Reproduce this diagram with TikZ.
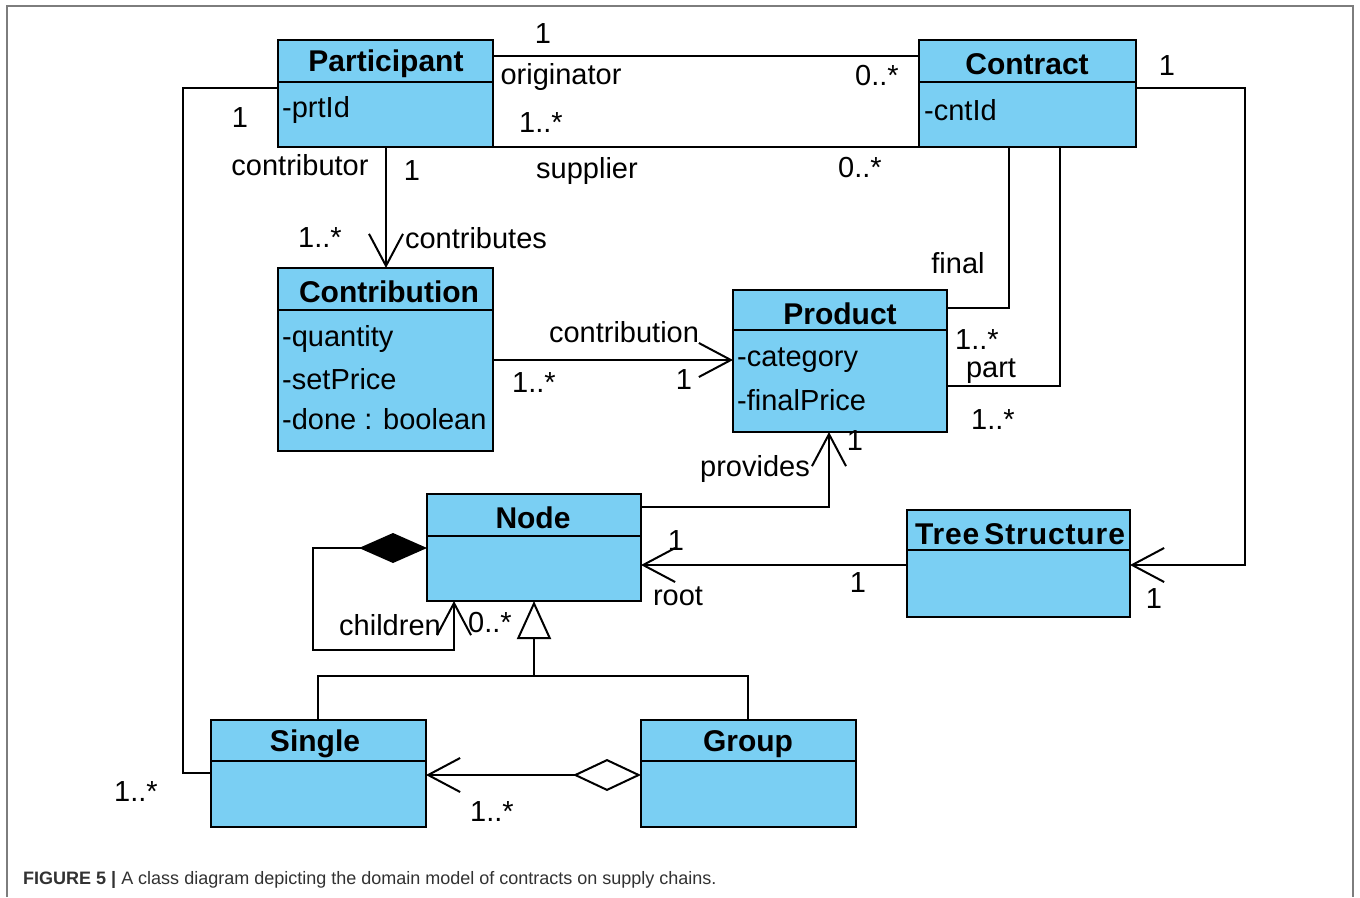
\documentclass[tikz,border=0pt]{standalone}
\usepackage{fontspec}
\setmainfont{Liberation Sans}
\usetikzlibrary{arrows.meta,calc}
\definecolor{clsblue}{RGB}{122,207,243}
\definecolor{framegray}{RGB}{125,125,125}
\definecolor{capgray}{RGB}{50,50,50}
\begin{document}
\begin{tikzpicture}[x=1pt,y=-1pt,
  cls/.style={draw=black, line width=2.4pt, fill=clsblue, anchor=north west, inner sep=0pt, outer sep=0pt},
  ttl/.style={font=\fontsize{30}{32}\selectfont\bfseries, inner sep=0pt, yshift=-2pt},
  attr/.style={font=\fontsize{29}{31}\selectfont, anchor=west, inner sep=0pt, yshift=-2pt},
  lbl/.style={font=\fontsize{29}{31}\selectfont, inner sep=0pt, yshift=-1pt},
  conn/.style={draw=black, line width=2pt},
  divl/.style={draw=black, line width=2.4pt},
  opena/.style={-{Straight Barb[length=32pt,width=34pt]}},
]
\useasboundingbox (0,0) rectangle (1360,897);
\fill[white] (0,0) rectangle (1360,897);
\draw[framegray, line width=1.5pt] (7,897) -- (7,6) -- (1353,6) -- (1353,897);

% classes
\node[cls, minimum width=215pt, minimum height=107pt] (P) at (278,40) {};
\draw[divl] (P.west |- 0,82) -- (P.east |- 0,82);
\node[ttl] (Pt) at (386,62) {Participant};
\node[attr] (Pa) at (282,108) {-prtId};

\node[cls, minimum width=217pt, minimum height=107pt] (C) at (919,40) {};
\draw[divl] (C.west |- 0,82) -- (C.east |- 0,82);
\node[ttl] (Ct) at (1027,62) {Contract};
\node[attr] (Ca) at (924,108) {-cntId};

\node[cls, minimum width=215pt, minimum height=183pt] (Cb) at (278,268) {};
\draw[divl] (Cb.west |- 0,310) -- (Cb.east |- 0,310);
\node[ttl] (Cbt) at (389,290) {Contribution};
\node[attr] (Cba) at (282,337) {-quantity};
\node[attr] (Cbb) at (282,377) {-setPrice};
\node[attr] (Cbc) at (282,417) {-done : boolean};

\node[cls, minimum width=214pt, minimum height=142pt] (Pr) at (733,290) {};
\draw[divl] (Pr.west |- 0,330) -- (Pr.east |- 0,330);
\node[ttl] (Prt) at (840,312) {Product};
\node[attr] (Pra) at (737,358) {-category};
\node[attr] (Prb) at (737,398) {-finalPrice};

\node[cls, minimum width=214pt, minimum height=107pt] (N) at (427,494) {};
\draw[divl] (N.west |- 0,536) -- (N.east |- 0,536);
\node[ttl] (Nt) at (533,516) {Node};

\node[cls, minimum width=223pt, minimum height=107pt] (T) at (907,510) {};
\draw[divl] (T.west |- 0,550) -- (T.east |- 0,550);
\node[ttl] (Tt) at (1020,532) {\addfontfeature{LetterSpace=3}Tree\,Structure};

\node[cls, minimum width=215pt, minimum height=107pt] (S) at (211,720) {};
\draw[divl] (S.west |- 0,761) -- (S.east |- 0,761);
\node[ttl] (St) at (315,742) {Single};

\node[cls, minimum width=215pt, minimum height=107pt] (G) at (641,720) {};
\draw[divl] (G.west |- 0,761) -- (G.east |- 0,761);
\node[ttl] (Gt) at (748,742) {Group};

% connectors
\draw[conn] (P.east |- 0,56) -- (C.west |- 0,56);
\draw[conn] (P.east |- 0,147) -- (C.west |- 0,147);
\draw[conn, opena] (P.south -| 386,0) -- (Cb.north -| 386,0);
\draw[conn, opena] (Cb.east |- 0,360) -- (Pr.west |- 0,360);
\draw[conn] (C.south -| 1009,0) -- (1009,308) -- (Pr.east |- 0,308);
\draw[conn] (C.south -| 1060,0) -- (1060,386) -- (Pr.east |- 0,386);
\draw[conn, opena] (C.east |- 0,88) -- (1245,88) -- (1245,565) -- (T.east |- 0,565);
\draw[conn, opena] (N.east |- 0,507) -- (829,507) -- (Pr.south -| 829,0);
\draw[conn, opena] (T.west |- 0,565) -- (N.east |- 0,565);
\draw[conn, {Diamond[length=68pt,width=30pt,fill=black]}-{Straight Barb[length=32pt,width=34pt]}]
  (N.west |- 0,548) -- (313,548) -- (313,650) -- (454,650) -- (N.south -| 454,0);
\draw[conn, -{Triangle[length=38pt,width=34pt,fill=white]}] (534,676) -- (N.south -| 534,0);
\draw[conn] (S.north -| 318,0) -- (318,676) -- (748,676) -- (G.north -| 748,0);
\draw[conn] (P.west |- 0,88) -- (183,88) -- (183,773) -- (S.west |- 0,773);
\draw[conn, {Diamond[length=68pt,width=32pt,fill=white]}-{Straight Barb[length=32pt,width=34pt]}]
  (G.west |- 0,775) -- (S.east |- 0,775);

% labels
\node[lbl] (l1) at (543,33) {1};
\node[lbl] (l2) at (561,76) {originator};
\node[lbl] (l3) at (877,75) {0..*};
\node[lbl] (l4) at (541,122) {1..*};
\node[lbl] (l5) at (587,170) {supplier};
\node[lbl] (l6) at (860,167) {0..*};
\node[lbl] (l7) at (1167,65) {1};
\node[lbl] (l8) at (240,117) {1};
\node[lbl] (l9) at (300,164) {contributor};
\node[lbl] (l10) at (412,170) {1};
\node[lbl] (l11) at (320,237) {1..*};
\node[lbl] (l12) at (476,237) {contributes};
\node[lbl] (l13) at (958,262) {final};
\node[lbl] (l14) at (624,331) {contribution};
\node[lbl] (l15) at (534,382) {1..*};
\node[lbl] (l16) at (684,379) {1};
\node[lbl] (l17) at (977,339) {1..*};
\node[lbl] (l18) at (991,370) {part};
\node[lbl] (l19) at (993,419) {1..*};
\node[lbl] (l20) at (755,468) {provides};
\node[lbl] (l21) at (855,440) {1};
\node[lbl] (l22) at (676,540) {1};
\node[lbl] (l23) at (678,595) {root};
\node[lbl] (l24) at (858,582) {1};
\node[lbl] (l25) at (1154,598) {1};
\node[lbl] (l26) at (390,624) {children};
\node[lbl] (l27) at (490,622) {0..*};
\node[lbl] (l28) at (136,791) {1..*};
\node[lbl] (l29) at (492,811) {1..*};

% caption
\node[anchor=base west, font=\fontsize{18}{20}\selectfont, text=capgray, inner sep=0pt] (cap) at (23,884)
  {\textbf{FIGURE 5 |} A class diagram depicting the domain model of contracts on supply chains.};
\end{tikzpicture}
\end{document}
